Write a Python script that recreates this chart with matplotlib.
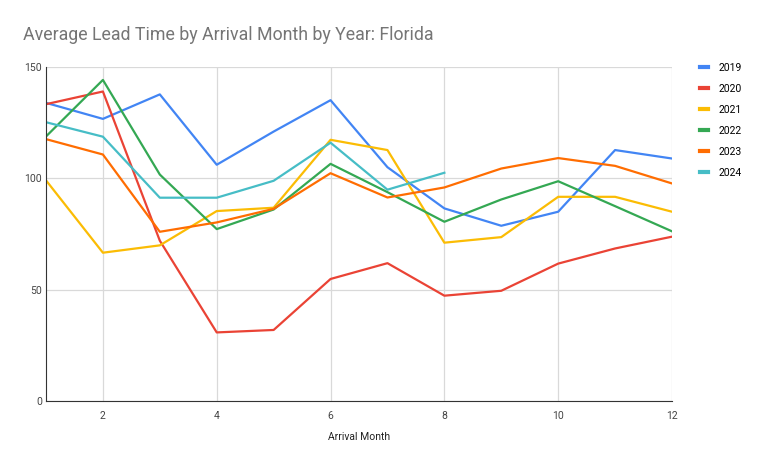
import numpy as np
import matplotlib.pyplot as plt

# Data
months = np.arange(1, 13)
lead_2019 = [133.9, 126.7, 137.7, 106.1, 121.0, 135.1, 105.0, 86.5, 78.7, 85.0, 112.7, 108.9]
lead_2020 = [133.3, 139.0, 72.0, 30.8, 31.9, 54.8, 61.9, 47.3, 49.5, 61.7, 68.5, 73.8]
lead_2021 = [99.1, 66.6, 69.9, 85.3, 86.8, 117.3, 112.7, 71.1, 73.6, 91.7, 91.7, 85.0]
lead_2022 = [118.8, 144.2, 101.7, 77.2, 86.0, 106.5, 93.8, 80.5, 90.5, 98.7, 87.5, 76.2]
lead_2023 = [117.6, 110.7, 76.0, 80.2, 86.3, 102.3, 91.4, 95.9, 104.4, 109.1, 105.6, 97.7]
lead_2024 = [125.2, 118.7, 91.3, 91.3, 98.9, 116.0, 94.9, 102.5]

years = ['2019', '2020', '2021', '2022', '2023', '2024']
series = [lead_2019, lead_2020, lead_2021, lead_2022, lead_2023, lead_2024]
colors = ['#4285F4', '#EA4335', '#FBBC04', '#34A853', '#FF6D01', '#46BDC6']

plt.rcParams['font.family'] = ['Roboto', 'DejaVu Sans']

fig = plt.figure(figsize=(7.68, 4.70), dpi=100)
ax = fig.add_axes([46/768, 69/470, 626/768, 334/470])

for name, vals, col in zip(years, series, colors):
    ax.plot(months[:len(vals)], vals, color=col, lw=1.6, label=name)

ax.set_xlim(1, 12)
ax.set_ylim(0, 150)
ax.set_xticks([2, 4, 6, 8, 10, 12])
ax.set_yticks([0, 50, 100, 150])
ax.grid(True, color='#d9d9d9', lw=0.9)
ax.set_axisbelow(True)
for s in ['top', 'right']:
    ax.spines[s].set_visible(False)
ax.spines['left'].set_color('#333333')
ax.spines['bottom'].set_color('#333333')
ax.tick_params(length=0, labelsize=7.5, colors='#444444')
ax.tick_params(axis='x', pad=7)
ax.tick_params(axis='y', pad=3)

ax.set_xlabel('Arrival Month', fontsize=7.5, color='#222222', labelpad=8)
fig.text(23/768, 1 - 35/470, 'Average Lead Time by Arrival Month by Year: Florida',
         fontsize=12.8, color='#757575', va='center', ha='left')

leg = ax.legend(loc='upper left', bbox_to_anchor=(1.03, 1.04), frameon=False,
                fontsize=7.5, handlelength=0.8, handletextpad=1.0, labelspacing=1.05)
for h in leg.get_lines():
    h.set_linewidth(3)

fig.savefig('out.png', dpi=100)
